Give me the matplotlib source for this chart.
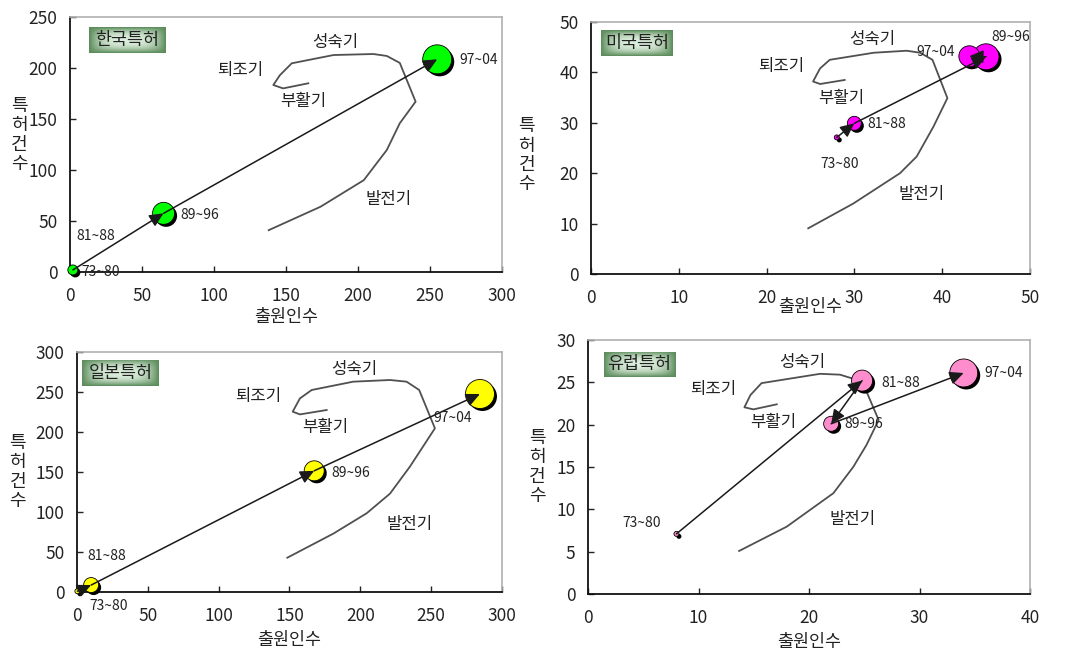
import numpy as np
import matplotlib
matplotlib.use("Agg")
import matplotlib.pyplot as plt
import matplotlib.transforms as mtransforms

plt.rcParams['font.family'] = ['Noto Sans CJK KR', 'DejaVu Sans']

# ---------------------------------------------------------------- data
periods = ['73~80', '81~88', '89~96', '97~04']
stage_names = ['성숙기', '퇴조기', '부활기', '발전기']
x_label = '출원인수'
y_label = '특허건수'

# Korea
kr_applicants = [0, 2, 65, 255]
kr_patents = [0, 2, 57.5, 208.5]
kr_bubble = [1.5, 5, 11, 14.5]
# USA
us_applicants = [28, 30, 45, 43.1]
us_patents = [27.1, 29.9, 43.1, 43.2]
us_bubble = [2.5, 7, 13, 10.5]
# Japan
jp_applicants = [0.3, 10, 167.5, 284.5]
jp_patents = [1, 8.7, 151.5, 247.5]
jp_bubble = [2.5, 7.5, 10, 14.5]
# Europe
eu_applicants = [8, 24.8, 22, 34]
eu_patents = [7.1, 25.2, 20.1, 26.1]
eu_bubble = [2.5, 10.5, 7.5, 14]

# technology life-cycle guide curve (발전기 -> 성숙기 -> 퇴조기 -> 부활기)
kr_cycle_x = [138, 174, 204, 220, 229, 240, 229, 220, 210.6, 183, 154, 145.8, 141.2, 148, 165.5]
kr_cycle_y = [41, 64, 90, 119.6, 145.8, 167, 205, 211.8, 213.7, 212.7, 204.6, 193, 183.3, 180, 185]
us_cycle_x = [24.75, 29.9, 35.2, 37.1, 39.0, 40.6, 38.9, 37.5, 35.96, 32.2, 27.2, 26.1, 25.3, 26.1, 28.9]
us_cycle_y = [9.07, 14.0, 20.0, 23.3, 29.2, 34.9, 42.5, 43.9, 44.3, 43.9, 42.5, 40.8, 38.2, 37.7, 38.5]
jp_cycle_x = [148.5, 181, 204.5, 221, 235, 252.7, 241.6, 232.7, 221, 195, 165.7, 157.4, 152.3, 157.4, 176.3]
jp_cycle_y = [42.9, 73, 98.4, 123, 156.6, 204.6, 252.5, 262.9, 265, 262.9, 252.5, 242, 225.4, 222, 227.5]
eu_cycle_x = [13.67, 17.98, 22.2, 24.0, 25.2, 26.3, 25.07, 24.3, 22.8, 21.0, 15.7, 14.7, 14.15, 14.96, 17.08]
eu_cycle_y = [5.08, 7.95, 11.9, 15.0, 17.6, 20.55, 24.3, 25.3, 25.9, 26.0, 24.9, 23.5, 22.05, 21.8, 22.4]

# -------------------------------------------------------------- layout
panels = [
    dict(title='한국특허', x=kr_applicants, y=kr_patents, size=kr_bubble,
         cx=kr_cycle_x, cy=kr_cycle_y, color='#00ff00',
         rect=[0.0649, 0.5822, 0.4008, 0.3917],
         xlim=(0, 300), xstep=50, ylim=(0, 250), ystep=50,
         stage_pos=[(184, 225), (118, 198), (162, 167), (221, 71)],
         label_off=[(11, 0, 'left'), (4, 34, 'left'), (17, -2, 'left'), (22, -1, 'left')],
         box=[0.045, 0.86, 0.1765, 0.10],
         xlab_y=-0.176, ylab=(-0.118, 0.537)),
    dict(title='미국특허', x=us_applicants, y=us_patents, size=us_bubble,
         cx=us_cycle_x, cy=us_cycle_y, color='#ff00ff',
         rect=[0.5482, 0.5791, 0.4072, 0.3871],
         xlim=(0, 50), xstep=10, ylim=(0, 50), ystep=10,
         stage_pos=[(32.0, 46.5), (21.7, 41.1), (28.55, 34.9), (37.7, 15.7)],
         label_off=[(3, -27, 'center'), (13, -1, 'left'), (5, 20, 'left'), (-14, 4, 'right')],
         box=[0.024, 0.865, 0.163, 0.103],
         xlab_y=-0.131, ylab=(-0.146, 0.472)),
    dict(title='일본특허', x=jp_applicants, y=jp_patents, size=jp_bubble,
         cx=jp_cycle_x, cy=jp_cycle_y, color='#ffff00',
         rect=[0.0714, 0.0906, 0.3942, 0.3687],
         xlim=(0, 300), xstep=50, ylim=(0, 300), ystep=50,
         stage_pos=[(196, 278), (128, 245), (175, 206), (234.6, 85)],
         label_off=[(31, -15, 'center'), (-4, 29, 'left'), (17, -2, 'left'), (-27, -24, 'center')],
         box=[0.013, 0.858, 0.181, 0.109],
         xlab_y=-0.20, ylab=(-0.139, 0.5)),
    dict(title='유럽특허', x=eu_applicants, y=eu_patents, size=eu_bubble,
         cx=eu_cycle_x, cy=eu_cycle_y, color='#ff8ccc',
         rect=[0.5455, 0.0876, 0.4100, 0.3902],
         xlim=(0, 40), xstep=10, ylim=(0, 30), ystep=5,
         stage_pos=[(19.4, 27.3), (11.3, 24.2), (16.8, 20.2), (23.95, 8.74)],
         label_off=[(-35, 11, 'center'), (19, -2, 'left'), (13, 0, 'left'), (21, 0, 'left')],
         box=[0.035, 0.853, 0.162, 0.101],
         xlab_y=-0.189, ylab=(-0.115, 0.5)),
]

DPI = 100
fig = plt.figure(figsize=(10.78, 6.51), dpi=DPI)
fig.patch.set_facecolor('white')

# green gradient used behind the panel titles
gu = np.linspace(-1, 1, 120)
gv = np.linspace(-1, 1, 40)
GU, GV = np.meshgrid(gu, gv)
light = (1 - np.abs(GU) ** 3) * (1 - np.abs(GV) ** 2.5)
dark_c = np.array([0.36, 0.55, 0.36])
light_c = np.array([0.86, 0.93, 0.86])
grad_img = dark_c + (light_c - dark_c) * light[..., None]

text_col = '#222222'

for p in panels:
    ax = fig.add_axes(p['rect'])
    ax.set_xlim(*p['xlim'])
    ax.set_ylim(*p['ylim'])
    ax.set_xticks(np.arange(p['xlim'][0], p['xlim'][1] + 0.1, p['xstep']))
    ax.set_yticks(np.arange(p['ylim'][0], p['ylim'][1] + 0.1, p['ystep']))
    ax.tick_params(direction='in', length=4, width=1, color='#222222',
                   labelsize=12.5, labelcolor=text_col)
    ax.tick_params(axis='x', pad=11)
    ax.tick_params(axis='y', pad=9)
    for side in ('left', 'bottom'):
        ax.spines[side].set_color('#111111')
        ax.spines[side].set_linewidth(1.3)
    for side in ('top', 'right'):
        ax.spines[side].set_color('#b0b0b0')
        ax.spines[side].set_linewidth(1.2)

    # axis titles
    ax.text(0.5, p['xlab_y'], x_label, transform=ax.transAxes, ha='center',
            va='center', fontsize=12.5, color=text_col)
    ax.text(p['ylab'][0], p['ylab'][1], '\n'.join(y_label), transform=ax.transAxes,
            ha='center', va='center', fontsize=13, color=text_col, linespacing=1.08)

    # life-cycle guide curve
    ax.plot(p['cx'], p['cy'], color='#505050', lw=1.3, zorder=2, solid_joinstyle='round')
    for name, (sx, sy) in zip(stage_names, p['stage_pos']):
        ax.text(sx, sy, name, ha='center', va='center', fontsize=12, color=text_col)

    # bubbles with drop shadow
    sizes = [(2 * r * 72 / DPI) ** 2 for r in p['size']]
    shadow_tr = mtransforms.offset_copy(ax.transData, fig=fig, x=2.5, y=-2.5, units='dots')
    ax.scatter(p['x'], p['y'], s=sizes, color='black', transform=shadow_tr,
               zorder=3, clip_on=False, linewidths=0)
    ax.scatter(p['x'], p['y'], s=sizes, color=p['color'], edgecolors='black',
               linewidths=0.6, zorder=4, clip_on=False)

    # period-to-period arrows (skipped when the step is shorter than the head)
    fig.canvas.draw()
    pts = ax.transData.transform(np.column_stack([p['x'], p['y']]))
    for i in range(len(periods) - 1):
        if np.hypot(*(pts[i + 1] - pts[i])) < 10:
            continue
        ax.annotate('', xy=(p['x'][i + 1], p['y'][i + 1]), xytext=(p['x'][i], p['y'][i]),
                    arrowprops=dict(arrowstyle='-|>,head_length=0.6,head_width=0.28',
                                    color='#1a1a1a', lw=1.1, shrinkA=0, shrinkB=0,
                                    mutation_scale=14),
                    zorder=5, annotation_clip=False)

    # period labels
    for i, per in enumerate(periods):
        dx, dy, ha = p['label_off'][i]
        ax.annotate(per, xy=(p['x'][i], p['y'][i]), xytext=(dx, dy),
                    textcoords='offset pixels', ha=ha, va='center',
                    fontsize=10, color=text_col, zorder=6, annotation_clip=False)

    # title box
    bax = ax.inset_axes(p['box'])
    bax.imshow(grad_img, aspect='auto', extent=(0, 1, 0, 1))
    bax.set_xlim(0, 1)
    bax.set_ylim(0, 1)
    bax.axis('off')
    bax.text(0.5, 0.5, p['title'], ha='center', va='center', fontsize=12.5, color=text_col)

fig.savefig('out.png', dpi=DPI)
